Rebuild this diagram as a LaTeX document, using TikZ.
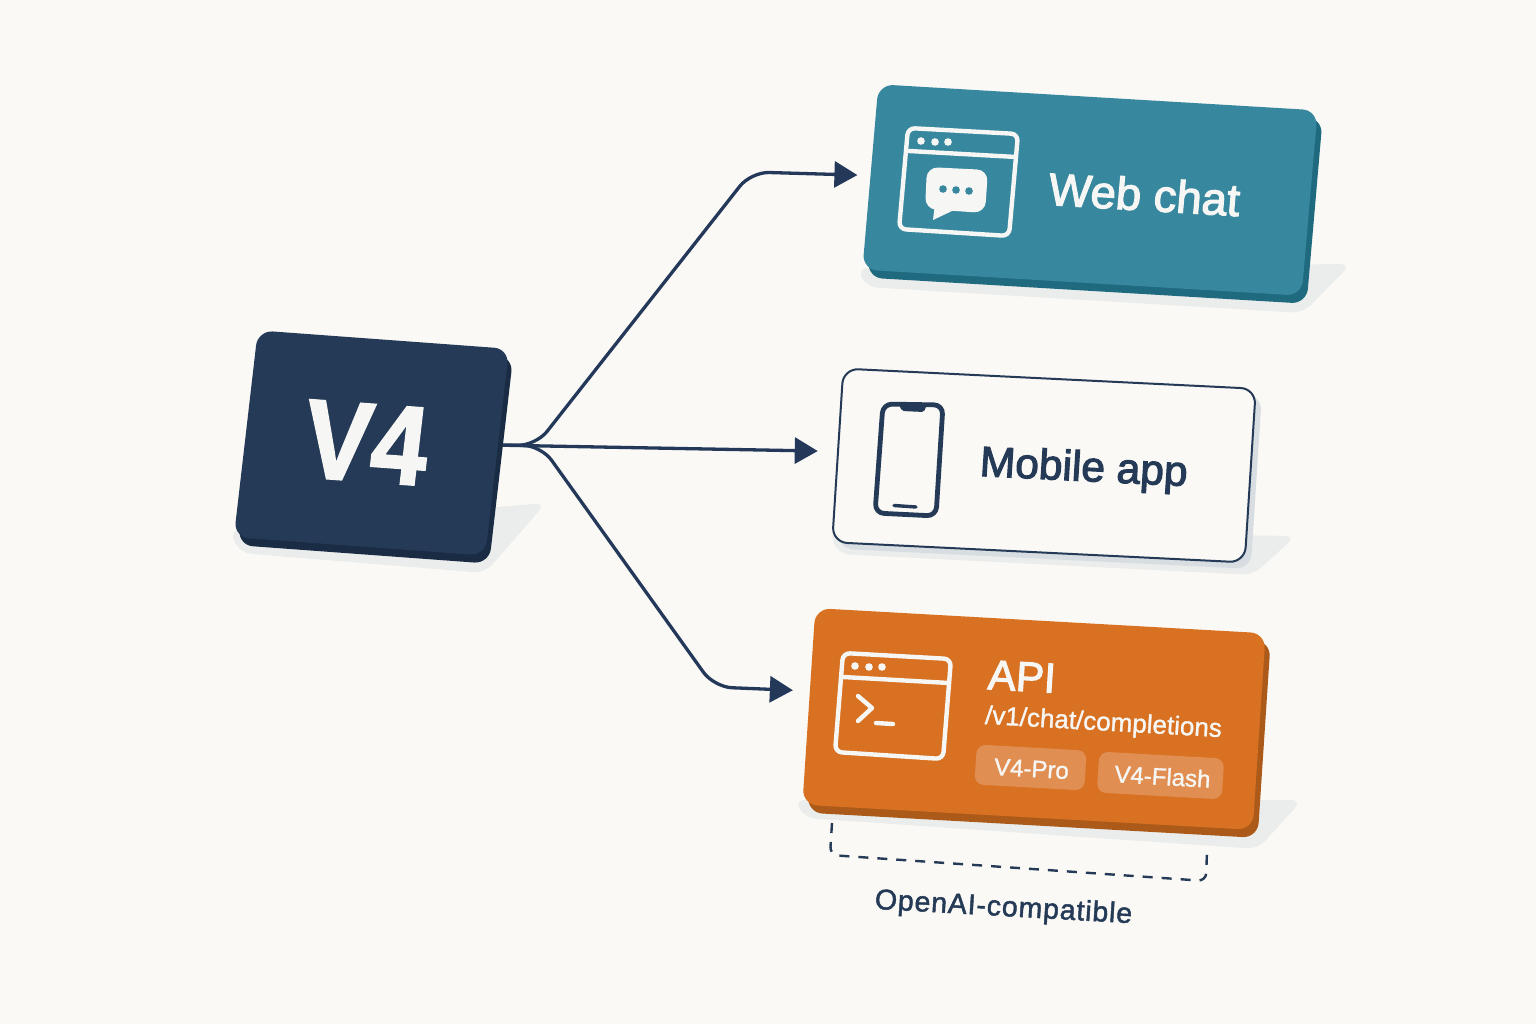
\documentclass[tikz,border=0pt]{standalone}
\usepackage{fontspec}
\setmainfont{Liberation Sans}
\newfontfamily\medfont[FakeBold=2.5]{Liberation Sans}
\newfontfamily\smallfont[FakeBold=1.2]{Liberation Sans}
\newfontfamily\heavyfont[FakeBold=2]{Liberation Sans Bold}
\newfontfamily\spacedfont[FakeBold=1.6,LetterSpace=3]{Liberation Sans}
\usetikzlibrary{arrows.meta, positioning}
\definecolor{paper}{HTML}{FAF9F5}
\definecolor{navy}{HTML}{243A56}
\definecolor{navydark}{HTML}{1A2C44}
\definecolor{inkline}{HTML}{24395A}
\definecolor{tealcard}{HTML}{37879F}
\definecolor{tealdark}{HTML}{1F6A7F}
\definecolor{orangecard}{HTML}{D97122}
\definecolor{orangedark}{HTML}{AB5A1A}
\definecolor{orangepill}{HTML}{E08E52}
\definecolor{mobileside}{HTML}{D8DDE2}
\definecolor{softshadow}{HTML}{EBEDEC}
\definecolor{iconwhite}{HTML}{F6F7F4}
\tikzset{
    % each card has its own lean
    tiltcore/.style = {rotate=-4.2, xslant=0.042},
    tiltweb/.style = {rotate=-3.4, xslant=0.027},
    tiltmobile/.style = {rotate=-2.8, xslant=0.015},
    tiltapi/.style = {rotate=-3.2, xslant=0.01},
    card/.style = {rectangle, rounded corners=15pt, inner sep=0pt, outer sep=0pt},
    pill/.style = {card, rounded corners=9pt, fill=orangepill},
    shadow/.style = {fill=softshadow, rounded corners=11pt},
    label/.style = {inner sep=0pt, anchor=base},
    whiteicon/.style = {draw=iconwhite, line width=4.4pt, line cap=round, line join=round},
    navyicon/.style = {draw=navy, line width=4.8pt, line cap=round, line join=round},
    icondot/.style = {fill=iconwhite},
    link/.style = {draw=inkline, line width=3.3pt, rounded corners=18pt, -{Triangle[length=23pt,width=26pt]}}
}
\begin{document}
\begin{tikzpicture}[x=1pt, y=-1pt]
\fill[paper] (0,0) rectangle (1536,1024);

% shadows on the floor
\fill[shadow] (229,530) -- (546,503) -- (485,573) -- (240,553) -- cycle;
\fill[shadow] (857,268) -- (1351,264) -- (1303,313) -- (866,287) -- cycle;
\fill[shadow] (829,530) -- (1296,536) -- (1253,575) -- (838,554) -- cycle;
\fill[shadow] (794,800) -- (1302,800) -- (1258,849) -- (805,818) -- cycle;

% cards
\node[card, tiltcore, fill=navydark, minimum width=252pt, minimum height=208pt] (coreside) at (375.5,451) {};
\node[card, tiltcore, fill=navy, minimum width=252pt, minimum height=208pt] (core) at (371.5,443) {};
\node[card, tiltweb, fill=tealdark, minimum width=440pt, minimum height=186pt] (webside) at (1095,198) {};
\node[card, tiltweb, fill=tealcard, minimum width=440pt, minimum height=186pt] (web) at (1090,190) {};
\node[card, tiltmobile, fill=mobileside, minimum width=413pt, minimum height=174pt] (mobileside) at (1050,472) {};
\node[card, tiltmobile, fill=paper, draw=navy, line width=2pt, minimum width=413pt, minimum height=174pt] (mobile) at (1044,465.5) {};
\node[card, tiltapi, fill=orangedark, minimum width=451pt, minimum height=197pt] (apiside) at (1039,727) {};
\node[card, tiltapi, fill=orangecard, minimum width=451pt, minimum height=197pt] (api) at (1034,719) {};

% connectors
\draw[link, shorten >=13pt] ([shift={(6pt,7pt)}]core.east) -- (536,445.5) -- (751,172) -- ([yshift=1.5pt]web.west);
\draw[link, shorten >=20pt] ([shift={(6pt,7pt)}]core.east) -- ([yshift=4pt]mobile.west);
\draw[link, shorten >=16pt] ([shift={(6pt,7pt)}]core.east) -- (541,445.5) -- (714,687) -- ([yshift=15.5pt]api.west);

% labels
\node[label, tiltcore, text=iconwhite, xscale=0.9] (corelabel) at (362,481) {\fontsize{112}{112}\heavyfont V4};
\node[label, tiltweb, text=iconwhite] (weblabel) at (1143,210.5) {\fontsize{45.5}{50}\medfont Web chat};
\node[label, tiltmobile, text=navy] (mobilelabel) at (1083,481) {\fontsize{42.5}{48}\medfont Mobile app};
\node[label, tiltapi, text=iconwhite] (apilabel) at (1021,691) {\fontsize{42}{48}\medfont API};
\node[label, tiltapi, text=iconwhite] (apipath) at (1103,730.5) {\fontsize{26}{30}\smallfont /v1/chat/completions};
\node[pill, tiltapi, minimum width=110pt, minimum height=40pt] (propill) at (1030.5,767.5) {};
\node[pill, tiltapi, minimum width=125pt, minimum height=41pt] (flashpill) at (1160.5,775.5) {};
\node[label, tiltapi, text=iconwhite] (prolabel) at (1031,777) {\fontsize{24}{28}\smallfont V4-Pro};
\node[label, tiltapi, text=iconwhite] (flashlabel) at (1162,785) {\fontsize{24}{28}\smallfont V4-Flash};

% web chat icon
\draw[whiteicon, rounded corners=7pt] (908,128) -- (1018,134) -- (1009,236) -- (899,229) -- cycle;
\draw[whiteicon] (909,151) -- (1016,157);
\foreach \x/\y in {921/141, 935/142, 948/142} \fill[icondot] (\x,\y) circle (3.8pt);
\fill[icondot, rounded corners=11pt] (927,167) -- (988,170) -- (985,213) -- (925,209) -- cycle;
\fill[icondot] (935,203) -- (933,220) -- (952,211) -- cycle;
\foreach \x/\y in {943/189, 956/190, 969/191} \fill[tealcard] (\x,\y) circle (3.8pt);

% phone icon
\draw[navyicon, rounded corners=9pt] (883,404) -- (943,405) -- (936,516) -- (875,513) -- cycle;
\fill[navy, rounded corners=2pt] (898,403) -- (927,404) -- (924,412) -- (902,411) -- cycle;
\draw[navyicon, line width=3.4pt] (894,505.5) -- (916,507);

% terminal icon
\draw[whiteicon, rounded corners=7pt] (843,653) -- (951,659) -- (943,759) -- (835,752) -- cycle;
\draw[whiteicon] (843,677) -- (949,683);
\foreach \x/\y in {855/666, 869/667, 882/667} \fill[icondot] (\x,\y) circle (3.8pt);
\draw[whiteicon] (858,696) -- (872,708) -- (858,721);
\draw[whiteicon] (876,723) -- (893,724);

% bracket under the api card
\draw[draw=navy, line width=2.4pt, dash pattern=on 10pt off 9pt, rounded corners=8pt] (832,823) -- (830,855) -- (1206,881) -- (1207,850);
\node[label, tiltapi, text=navy] (compatlabel) at (1003,916) {\fontsize{28.5}{32}\spacedfont OpenAI-compatible};

\end{tikzpicture}
\end{document}
